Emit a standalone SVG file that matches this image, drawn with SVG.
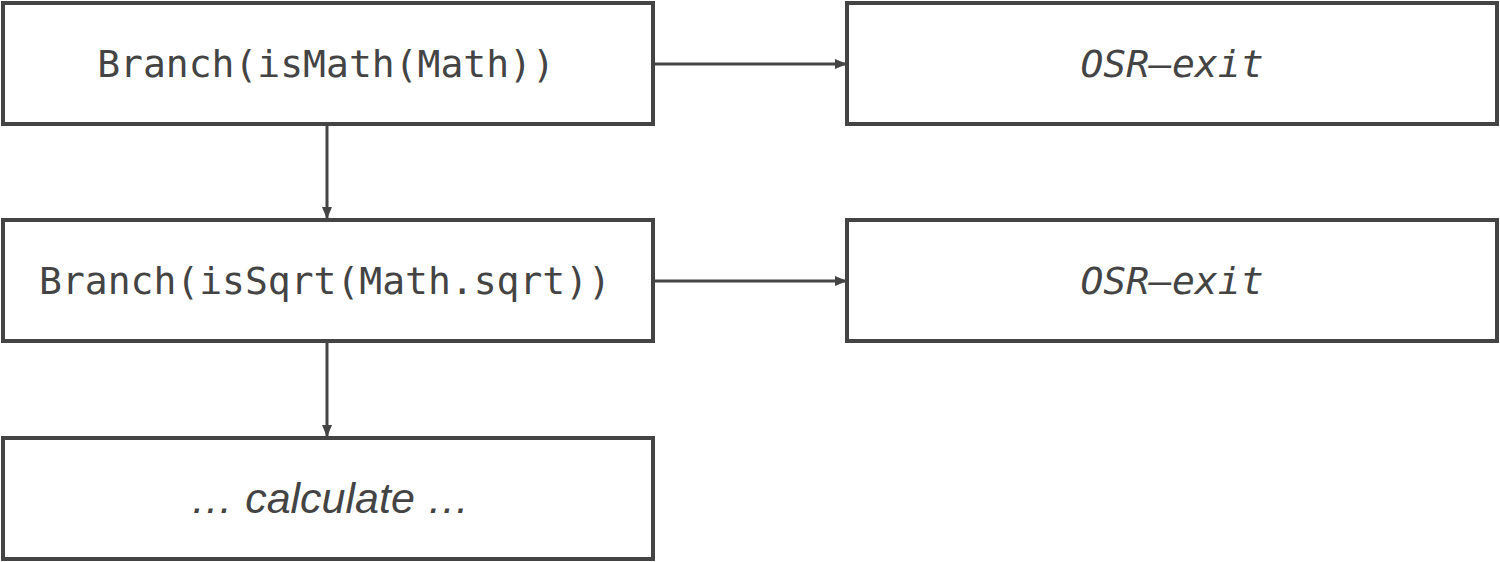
<svg xmlns="http://www.w3.org/2000/svg" width="1500" height="562" viewBox="0 0 1500 562">
<style>
.box{fill:#fff;stroke:#444;stroke-width:4}
.mono{font-family:"DejaVu Sans Mono",monospace;font-size:38px;fill:#444;text-anchor:middle;dominant-baseline:central}
.it{font-style:italic}
.sans{font-family:"Liberation Sans",Arial,sans-serif;font-size:43px;font-style:italic;fill:#444;text-anchor:middle;dominant-baseline:central}
.conn{stroke:#444;stroke-width:3;fill:none}
</style>
<defs>
<marker id="ah" viewBox="0 0 12 10" refX="12" refY="5" markerWidth="12" markerHeight="10" markerUnits="userSpaceOnUse" orient="auto">
<path d="M0,0 L12,5 L0,10 Z" fill="#444"/>
</marker>
</defs>
<rect width="1500" height="562" fill="#fff"/>
<g id="connectors">
<line class="conn" x1="654" y1="64" x2="847" y2="64" marker-end="url(#ah)"/>
<line class="conn" x1="327" y1="125" x2="327" y2="219" marker-end="url(#ah)"/>
<line class="conn" x1="654" y1="281" x2="847" y2="281" marker-end="url(#ah)"/>
<line class="conn" x1="327" y1="342" x2="327" y2="437" marker-end="url(#ah)"/>
</g>
<g id="branch1">
<rect class="box" x="3" y="3" width="650" height="121"/>
<text class="mono" x="326" y="64">Branch(isMath(Math))</text>
</g>
<g id="exit1">
<rect class="box" x="847" y="3" width="650" height="121"/>
<text class="mono it" x="1172" y="64">OSR–exit</text>
</g>
<g id="branch2">
<rect class="box" x="3" y="220" width="650" height="121"/>
<text class="mono" x="325" y="281">Branch(isSqrt(Math.sqrt))</text>
</g>
<g id="exit2">
<rect class="box" x="847" y="220" width="650" height="121"/>
<text class="mono it" x="1172" y="281">OSR–exit</text>
</g>
<g id="calc">
<rect class="box" x="3" y="438" width="650" height="121"/>
<text class="sans" x="330" y="498">… calculate …</text>
</g>
</svg>
